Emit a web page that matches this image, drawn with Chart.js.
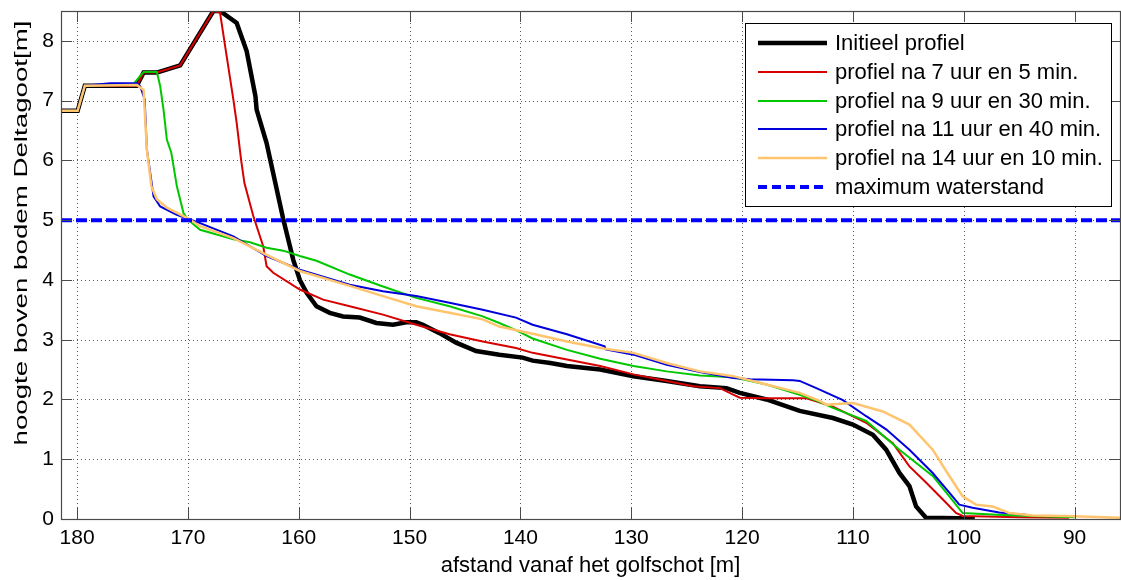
<!DOCTYPE html>
<html lang="nl">
<head>
    <meta charset="UTF-8">
    <title>Profielontwikkeling Deltagoot</title>
    <script src="https://cdn.jsdelivr.net/npm/chart.js"></script>
    <style>
        body {
            margin: 0;
            background: #ffffff;
        }
        #wrap {
            width: 1121px;
            height: 580px;
        }
    </style>
</head>
<body>
<div id="wrap">
    <canvas id="profielChart" width="1121" height="580"></canvas>
</div>

<script>
    // afstand vanaf het golfschot [m] / hoogte boven bodem [m]
    const initieelX = [181.45, 179.95, 179.3, 174.6, 174.0, 172.8, 170.7, 167.7, 167.1, 165.6, 164.7, 163.9, 163.8, 162.9, 161.4, 160.5, 159.9, 159.3, 158.4, 157.2, 156.0, 154.5, 153.0, 151.5, 150.3, 149.4, 148.8, 147.3, 145.8, 144.0, 141.9, 139.8, 138.9, 137.3, 135.8, 132.8, 129.8, 126.8, 123.8, 121.4, 120.2, 117.8, 114.8, 111.8, 110.0, 108.2, 107.0, 105.8, 104.9, 104.3, 103.4, 99.0];
    const initieelY = [6.83, 6.83, 7.25, 7.25, 7.47, 7.47, 7.59, 8.5, 8.5, 8.3, 7.83, 7.07, 6.85, 6.29, 5.02, 4.34, 4.0, 3.79, 3.56, 3.45, 3.39, 3.37, 3.28, 3.25, 3.29, 3.29, 3.25, 3.11, 2.95, 2.81, 2.75, 2.70, 2.65, 2.61, 2.56, 2.50, 2.39, 2.31, 2.22, 2.19, 2.11, 2.0, 1.81, 1.69, 1.58, 1.41, 1.16, 0.77, 0.55, 0.21, 0.02, 0.01];

    const na7uurX = [181.45, 179.95, 179.3, 174.6, 174.0, 172.8, 170.7, 167.7, 167.1, 166.5, 165.9, 165.6, 165.2, 164.9, 164.1, 163.2, 162.9, 162.3, 159.9, 157.8, 155.4, 152.4, 149.4, 146.4, 143.4, 140.4, 138.9, 135.8, 132.8, 129.8, 126.8, 124.4, 122.0, 120.8, 120.2, 117.8, 114.2, 111.8, 108.8, 106.4, 104.9, 103.4, 101.9, 100.7, 100.1, 95.0, 90.5];
    const na7uurY = [6.83, 6.83, 7.25, 7.25, 7.47, 7.47, 7.59, 8.5, 8.47, 7.74, 7.02, 6.63, 6.01, 5.62, 5.07, 4.56, 4.23, 4.12, 3.84, 3.67, 3.56, 3.42, 3.25, 3.09, 2.97, 2.86, 2.78, 2.67, 2.56, 2.42, 2.31, 2.22, 2.19, 2.08, 2.03, 2.02, 2.02, 1.88, 1.61, 1.27, 0.88, 0.61, 0.33, 0.10, 0.05, 0.03, 0.02];

    const na9uurX = [181.45, 179.95, 179.3, 174.9, 174.0, 172.8, 172.5, 172.2, 171.9, 171.5, 171.0, 170.4, 170.0, 168.9, 165.9, 164.4, 162.9, 161.4, 159.9, 158.4, 155.4, 152.4, 149.4, 146.4, 143.4, 141.9, 140.4, 138.9, 135.8, 132.8, 129.8, 126.8, 123.8, 120.8, 117.8, 114.8, 113.3, 111.8, 110.3, 108.8, 105.8, 102.8, 101.3, 100.1, 97.0, 94.0, 90.0];
    const na9uurY = [6.83, 6.83, 7.25, 7.28, 7.48, 7.48, 7.24, 6.85, 6.35, 6.13, 5.57, 5.12, 5.01, 4.84, 4.68, 4.63, 4.54, 4.49, 4.40, 4.32, 4.09, 3.89, 3.70, 3.56, 3.39, 3.28, 3.16, 3.02, 2.83, 2.68, 2.56, 2.47, 2.40, 2.37, 2.25, 2.08, 1.98, 1.86, 1.75, 1.64, 1.16, 0.72, 0.38, 0.10, 0.07, 0.05, 0.03];

    const na11uurX = [181.45, 179.95, 179.3, 177.0, 174.6, 174.3, 173.9, 173.7, 173.4, 173.1, 172.5, 171.0, 168.9, 165.9, 162.9, 159.9, 155.4, 152.4, 149.4, 146.4, 143.4, 140.4, 138.9, 135.8, 132.4, 132.3, 129.8, 126.8, 123.8, 120.8, 119.3, 115.4, 114.8, 113.3, 110.9, 108.8, 107.0, 104.9, 102.8, 101.3, 100.4, 99.2, 96.8, 95.6, 94.4];
    const na11uurY = [6.83, 6.83, 7.25, 7.29, 7.29, 7.24, 7.02, 6.18, 5.79, 5.40, 5.23, 5.09, 4.95, 4.73, 4.40, 4.17, 3.92, 3.81, 3.73, 3.62, 3.50, 3.37, 3.25, 3.09, 2.89, 2.84, 2.75, 2.58, 2.46, 2.36, 2.34, 2.32, 2.31, 2.19, 1.99, 1.72, 1.50, 1.16, 0.77, 0.44, 0.24, 0.19, 0.11, 0.09, 0.07];

    const na14uurX = [181.45, 179.95, 179.3, 174.6, 174.0, 173.9, 173.7, 173.3, 172.8, 171.9, 170.1, 168.9, 165.9, 162.9, 159.9, 155.4, 152.4, 149.4, 146.4, 143.4, 141.9, 138.9, 135.8, 132.8, 129.8, 126.8, 123.8, 120.8, 117.8, 114.8, 112.9, 112.4, 111.8, 110.0, 107.3, 104.9, 102.8, 101.3, 100.1, 98.9, 97.4, 95.9, 93.8, 90.8, 85.9];
    const na14uurY = [6.83, 6.83, 7.25, 7.26, 7.18, 6.85, 6.18, 5.57, 5.35, 5.21, 5.04, 4.90, 4.70, 4.42, 4.15, 3.90, 3.73, 3.56, 3.45, 3.34, 3.22, 3.10, 2.97, 2.86, 2.78, 2.61, 2.47, 2.39, 2.25, 2.11, 1.97, 1.91, 1.92, 1.94, 1.80, 1.58, 1.16, 0.72, 0.38, 0.24, 0.21, 0.10, 0.06, 0.05, 0.02];

    const waterstandX = [181.45, 85.9];
    const waterstandY = [5, 5];

    const xTicks = [180, 170, 160, 150, 140, 130, 120, 110, 100, 90];
    const yTicks = [0, 1, 2, 3, 4, 5, 6, 7, 8];

    const FONT = "'Liberation Sans', Arial, sans-serif";
    const AXIS_COLOR = '#4a4a4a';

    function toPoints(xs, ys) {
        return xs.map((x, i) => ({ x: x, y: ys[i] }));
    }

    // dotted grid, box with inward ticks, y label and legend (MATLAB look)
    const matlabLook = {
        id: 'matlabLook',
        beforeDatasetsDraw(chart) {
            const ctx = chart.ctx;
            const area = chart.chartArea;
            const xs = chart.scales.x;
            const ys = chart.scales.y;
            ctx.save();
            ctx.strokeStyle = 'rgba(70, 70, 70, 0.9)';
            ctx.lineWidth = 1;
            ctx.setLineDash([1, 3]);
            ctx.beginPath();
            xTicks.forEach(v => {
                const px = Math.round(xs.getPixelForValue(v)) + 0.5;
                ctx.moveTo(px, area.top);
                ctx.lineTo(px, area.bottom);
            });
            yTicks.forEach(v => {
                const py = Math.round(ys.getPixelForValue(v)) + 0.5;
                ctx.moveTo(area.left, py);
                ctx.lineTo(area.right, py);
            });
            ctx.stroke();
            ctx.restore();
        },
        afterDraw(chart) {
            const ctx = chart.ctx;
            const area = chart.chartArea;
            const xs = chart.scales.x;
            const ys = chart.scales.y;

            ctx.save();
            ctx.strokeStyle = AXIS_COLOR;
            ctx.lineWidth = 1.2;
            ctx.strokeRect(Math.round(area.left) + 0.5, Math.round(area.top) + 0.5,
                Math.round(area.right - area.left), Math.round(area.bottom - area.top));
            ctx.lineWidth = 1;
            ctx.beginPath();
            // ticks pointing inward
            xTicks.forEach(v => {
                const px = Math.round(xs.getPixelForValue(v)) + 0.5;
                ctx.moveTo(px, area.bottom);
                ctx.lineTo(px, area.bottom - 11);
                ctx.moveTo(px, area.top);
                ctx.lineTo(px, area.top + 11);
            });
            yTicks.forEach(v => {
                const py = Math.round(ys.getPixelForValue(v)) + 0.5;
                ctx.moveTo(area.left, py);
                ctx.lineTo(area.left + 11, py);
                ctx.moveTo(area.right, py);
                ctx.lineTo(area.right - 11, py);
            });
            ctx.stroke();

            // y label (stretched like in the original picture)
            const yText = 'hoogte boven bodem Deltagoot[m]';
            ctx.font = '19px ' + FONT;
            ctx.fillStyle = '#000';
            ctx.textAlign = 'center';
            ctx.textBaseline = 'alphabetic';
            const w = ctx.measureText(yText).width;
            ctx.translate(27, 233);
            ctx.rotate(-Math.PI / 2);
            ctx.scale(425 / w, 1);
            ctx.fillText(yText, 0, 0);
            ctx.restore();

            // legend box
            ctx.save();
            ctx.fillStyle = '#fff';
            ctx.strokeStyle = '#000';
            ctx.lineWidth = 1;
            ctx.fillRect(745.5, 23.5, 366, 183);
            ctx.strokeRect(745.5, 23.5, 366, 183);
            ctx.font = '22px ' + FONT;
            ctx.textAlign = 'left';
            ctx.textBaseline = 'middle';
            chart.data.datasets.forEach((ds, i) => {
                const rowY = 43 + i * 28.8;
                ctx.strokeStyle = ds.borderColor;
                ctx.lineWidth = ds.borderWidth;
                ctx.setLineDash(ds.borderDash ? [9, 5] : []);
                ctx.beginPath();
                ctx.moveTo(758, Math.round(rowY));
                ctx.lineTo(827, Math.round(rowY));
                ctx.stroke();
                ctx.fillStyle = '#000';
                ctx.fillText(ds.label, 835, rowY + 1);
            });
            ctx.restore();
        }
    };

    const lineStyle = { pointRadius: 0, tension: 0, fill: false };

    const profielData = {
        datasets: [
            { label: 'Initieel profiel', data: toPoints(initieelX, initieelY), borderColor: '#000000', borderWidth: 4.5, order: 6, ...lineStyle },
            { label: 'profiel na 7 uur en 5 min.', data: toPoints(na7uurX, na7uurY), borderColor: 'rgb(214, 0, 0)', borderWidth: 2, order: 5, ...lineStyle },
            { label: 'profiel na 9 uur en 30 min.', data: toPoints(na9uurX, na9uurY), borderColor: 'rgb(0, 200, 0)', borderWidth: 2, order: 4, ...lineStyle },
            { label: 'profiel na 11 uur en 40 min.', data: toPoints(na11uurX, na11uurY), borderColor: 'rgb(0, 0, 220)', borderWidth: 2, order: 3, ...lineStyle },
            { label: 'profiel na 14 uur en 10 min.', data: toPoints(na14uurX, na14uurY), borderColor: 'rgb(255, 196, 110)', borderWidth: 2.5, order: 2, ...lineStyle },
            { label: 'maximum waterstand', data: toPoints(waterstandX, waterstandY), borderColor: 'rgb(0, 0, 255)', borderWidth: 4, borderDash: [11, 4], order: 1, ...lineStyle }
        ]
    };

    const profielOptions = {
        responsive: false,
        animation: false,
        layout: { padding: { top: 11, right: 1, left: 0, bottom: 0 } },
        plugins: {
            legend: { display: false },
            tooltip: { enabled: false }
        },
        scales: {
            x: {
                type: 'linear',
                reverse: true,
                min: 85.9,
                max: 181.45,
                grid: { display: false, drawTicks: false, tickLength: 0 },
                border: { display: false },
                ticks: { color: '#000', font: { size: 21, family: FONT }, padding: 7, maxRotation: 0 },
                afterBuildTicks: s => { s.ticks = xTicks.map(v => ({ value: v })); },
                afterFit: s => { s.height = 61; s.paddingLeft = 0; s.paddingRight = 0; },
                title: {
                    display: true,
                    text: 'afstand vanaf het golfschot [m]',
                    color: '#000',
                    font: { size: 22, family: FONT },
                    padding: { top: 0, bottom: 1 }
                }
            },
            y: {
                min: 0,
                max: 8.5,
                grid: { display: false, drawTicks: false, tickLength: 0 },
                border: { display: false },
                ticks: { color: '#000', font: { size: 21, family: FONT }, padding: 7 },
                afterBuildTicks: s => { s.ticks = yTicks.map(v => ({ value: v })); },
                afterFit: s => { s.width = 61; s.paddingTop = 0; s.paddingBottom = 0; }
            }
        }
    };

    const ctx = document.getElementById('profielChart').getContext('2d');
    new Chart(ctx, {
        type: 'line',
        data: profielData,
        options: profielOptions,
        plugins: [matlabLook]
    });
</script>
</body>
</html>
